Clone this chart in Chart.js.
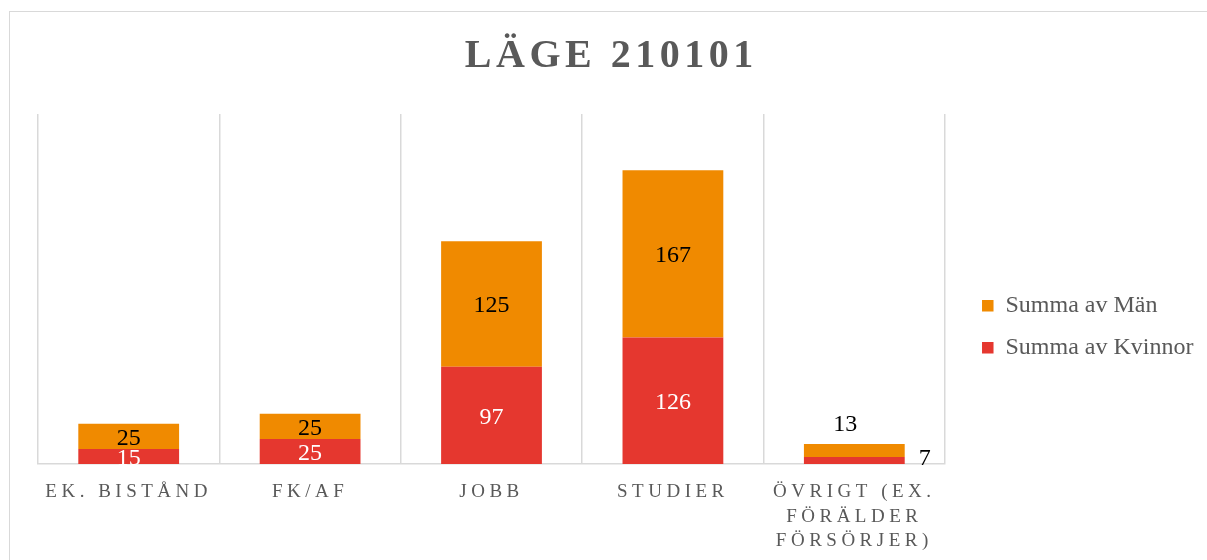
<!DOCTYPE html>
<html lang="sv">
<head>
<meta charset="utf-8">
<title>Läge 210101</title>
<script src="https://cdn.jsdelivr.net/npm/chart.js@4.4.1/dist/chart.umd.min.js"></script>
<style>
  html, body { margin: 0; padding: 0; background: #fff; overflow: hidden; }
  #ram { position: absolute; left: 9px; top: 11px; width: 1300px; height: 700px; border: 1.5px solid #d9d9d9; }
  #behallare { position: absolute; left: 0; top: 0; width: 1207px; height: 560px; }
</style>
</head>
<body>
<div id="ram"></div>
<div id="behallare"><canvas id="grafik"></canvas></div>
<script>
const kategorier = ['EK. BISTÅND', 'FK/AF', 'JOBB', 'STUDIER', ['ÖVRIGT (EX.', 'FÖRÄLDER', 'FÖRSÖRJER)']];
const kvinnor = [15, 25, 97, 126, 7];
const man = [25, 25, 125, 167, 13];

const fargKvinnor = '#e5372f';
const fargMan = '#f08a00';
const gra = '#595959';
const serif = '"Liberation Serif", "Times New Roman", serif';

// Excel-liknande spärrning av titel och axeltexter, men inte i förklaringen
const sparring = {
  id: 'sparring',
  afterLayout(chart) {
    // flytta förklaringen till samma läge som i originalet
    const lg = chart.legend;
    lg.left += 19; lg.right += 19;
    lg.top += 42; lg.bottom += 42;
  },
  beforeDraw(chart) {
    const lg = chart.legend;
    if (!lg._utanSparring) {
      const rita = lg.draw;
      lg.draw = function () {
        chart.ctx.save();
        chart.ctx.letterSpacing = '0px';
        rita.apply(this, arguments);
        chart.ctx.restore();
      };
      lg._utanSparring = true;
    }
    chart.ctx.letterSpacing = '4.5px';
  },
  afterDraw(chart) {
    chart.ctx.letterSpacing = '0px';
  }
};

// Dataetiketter i staplarna, små segment får etiketten utanför
const etiketter = {
  id: 'etiketter',
  afterDatasetsDraw(chart) {
    const ctx = chart.ctx;
    ctx.save();
    ctx.letterSpacing = '0px';
    ctx.font = '24px ' + serif;
    ctx.textAlign = 'center';
    ctx.textBaseline = 'middle';
    chart.data.datasets.forEach((ds, i) => {
      chart.getDatasetMeta(i).data.forEach((bar, j) => {
        const varde = ds.data[j];
        let x = bar.x;
        let y = (bar.y + bar.base) / 2 + 2;
        ctx.fillStyle = ds.etikettFarg;
        if (bar.base - bar.y < 14) {
          ctx.fillStyle = '#000';
          if (i === 0) {
            x = bar.x + bar.width / 2 + 20;
            y -= 4;
          } else {
            x = bar.x - 9;
            y = bar.y - 19;
          }
        }
        ctx.fillText(varde, x, y);
      });
    });
    ctx.restore();
  }
};

const ctx = document.getElementById('grafik').getContext('2d');
const chart = new Chart(ctx, {
  type: 'bar',
  data: {
    labels: kategorier,
    datasets: [
      { label: 'Summa av Kvinnor', data: kvinnor, backgroundColor: fargKvinnor, etikettFarg: '#fff' },
      { label: 'Summa av Män', data: man, backgroundColor: fargMan, etikettFarg: '#000' }
    ]
  },
  options: {
    responsive: true,
    maintainAspectRatio: false,
    animation: false,
    categoryPercentage: 0.5556,
    barPercentage: 1,
    layout: { padding: { top: 0, left: 38, right: 22.5, bottom: -9.5 } },
    plugins: {
      title: {
        display: true,
        text: 'LÄGE 210101',
        color: gra,
        font: { family: serif, size: 40, weight: 'bold' },
        padding: { top: 33, bottom: 33 }
      },
      legend: {
        position: 'right',
        reverse: true,
        labels: {
          color: gra,
          font: { family: serif, size: 24 },
          boxWidth: 11.5,
          boxHeight: 11.5,
          padding: 18
        }
      },
      tooltip: { enabled: false }
    },
    scales: {
      x: {
        stacked: true,
        grid: { color: '#d9d9d9', lineWidth: 1.5, drawTicks: false },
        border: { color: '#d9d9d9', width: 1.5 },
        ticks: {
          color: gra,
          font: { family: serif, size: 19, lineHeight: 1.29 },
          padding: 16,
          maxRotation: 0,
          autoSkip: false
        }
      },
      y: {
        stacked: true,
        display: false,
        min: 0,
        max: 349
      }
    }
  },
  plugins: [sparring, etiketter]
});
</script>
</body>
</html>
